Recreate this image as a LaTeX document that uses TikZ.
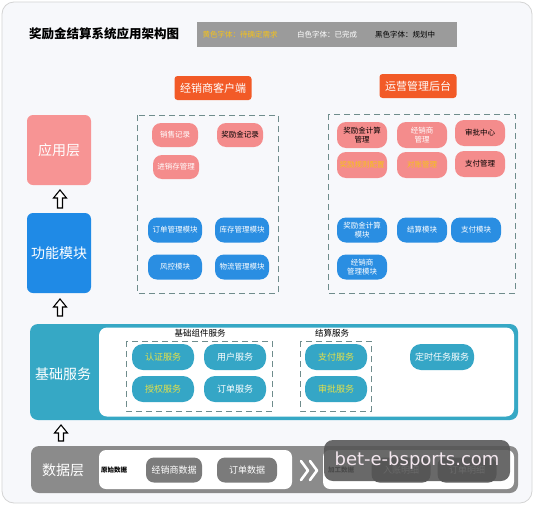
\documentclass[tikz,border=0pt]{standalone}
\usepackage{fontspec}
\setmainfont{Noto Sans CJK SC}
\newfontfamily\wmfont{DejaVu Sans}
\definecolor{cardbg}{HTML}{F7F8FB}
\definecolor{cardline}{HTML}{D4D4D4}
\definecolor{pinkc}{HTML}{F48C8C}
\definecolor{pinkbig}{HTML}{F79494}
\definecolor{bluec}{HTML}{2A8EE2}
\definecolor{bluebig}{HTML}{1F8AE6}
\definecolor{tealc}{HTML}{36A8C5}
\definecolor{tealpill}{HTML}{35A6C6}
\definecolor{orangec}{HTML}{F25A27}
\definecolor{greyc}{HTML}{8B8B8B}
\definecolor{greybox}{HTML}{7B7B7B}
\definecolor{legendc}{HTML}{9B9B9B}
\definecolor{yelc}{HTML}{F5C21A}
\definecolor{yelteal}{HTML}{E3E04A}
\definecolor{dashc}{HTML}{6F8C8C}
\definecolor{wmbg}{HTML}{555555}
\definecolor{wmtext}{HTML}{F3E6EE}
\tikzset{
  pinkpill/.style={fill=pinkc, rounded corners=9pt, minimum width=46pt, minimum height=24pt,
    font=\fontsize{7.5}{8.5}\selectfont, align=center, inner sep=1pt, text=white},
  pinkwide/.style={pinkpill, minimum width=50pt, minimum height=26pt},
  bluepill/.style={fill=bluec, rounded corners=9pt, minimum width=54pt, minimum height=25pt,
    font=\fontsize{7.5}{8.5}\selectfont, align=center, inner sep=1pt, text=white},
  tealpillst/.style={fill=tealpill, rounded corners=11pt, minimum width=62pt, minimum height=26pt,
    font=\fontsize{9}{10}\selectfont, inner sep=1pt, text=white},
  databox/.style={fill=greybox, rounded corners=8pt, minimum width=56pt, minimum height=25pt,
    font=\fontsize{9}{10}\selectfont, inner sep=1pt, text=white},
  blacktxt/.style={text=black},
  yeltxt/.style={text=yelc},
  yeltealtxt/.style={text=yelteal},
  layerbox/.style={rounded corners=6pt, minimum width=64pt, text=white,
    font=\fontsize{14}{16}\selectfont, inner sep=0pt},
  orangelabel/.style={fill=orangec, rounded corners=3pt, minimum width=77pt, minimum height=24pt,
    text=white, font=\fontsize{11}{12}\selectfont, inner sep=0pt},
  dashbox/.style={draw=dashc, line width=1pt, dash pattern=on 6pt off 4pt},
  hollowup/.style={draw=black, fill=white, line width=1.1pt, line join=miter},
  legendtxt/.style={font=\fontsize{7.5}{8.5}\selectfont, inner sep=0pt},
  sublabel/.style={font=\fontsize{8.5}{9.5}\selectfont, text=black, inner sep=0pt}
}
\newcommand{\hollowarrow}[3]{% x, top y, bottom y
  \draw[hollowup] (#1,#2) -- ++(6.5,8) -- ++(-4,0) -- (#1+2.5,#3) -- (#1-2.5,#3) -- (#1-2.5,#2+8) -- ++(-4,0) -- cycle;}
\begin{document}
\begin{tikzpicture}[x=1pt,y=-1pt]
\useasboundingbox (0,0) rectangle (535,506);
\fill[white] (0,0) rectangle (535,506);
\draw[draw=cardline, fill=cardbg, rounded corners=12pt, line width=0.8pt] (2,2) rectangle (532,503);

% title and legend
\node[font=\bfseries\fontsize{12.5}{14}\selectfont, anchor=west, inner sep=0pt] (title) at (29,34) {奖励金结算系统应用架构图};
\fill[legendc] (197,22) rectangle (457,47);
\node[legendtxt, text=yelc] (lg1) at (240,34.5) {黄色字体：待确定需求};
\node[legendtxt, text=white] (lg2) at (327,34.5) {白色字体：已完成};
\node[legendtxt, text=black] (lg3) at (405,34.5) {黑色字体：规划中};

% orange headers
\node[orangelabel] (hclient) at (213,88) {经销商客户端};
\node[orangelabel] (hadmin) at (418,86) {运营管理后台};

% left layers
\node[layerbox, fill=pinkbig, minimum height=70pt] (app) at (59,150) {应用层};
\node[layerbox, fill=bluebig, minimum height=80pt] (func) at (59,253) {功能模块};

% hollow arrows
\hollowarrow{60}{190}{208}
\hollowarrow{60}{299}{316}
\hollowarrow{61}{425}{441}

% client dashed box
\draw[dashbox] (137,115) rectangle (278,293);
\node[pinkpill] (xsjl) at (175,135) {销售记录};
\node[pinkpill, blacktxt] (jljjl) at (240,135) {奖励金记录};
\node[pinkpill] (jxcgl) at (176,167) {进销存管理};
\node[bluepill] (ddgl) at (175,230) {订单管理模块};
\node[bluepill] (kcgl) at (242,230) {库存管理模块};
\node[bluepill] (fkmk) at (175,267) {风控模块};
\node[bluepill] (wlgl) at (242,267) {物流管理模块};

% admin dashed box
\draw[dashbox] (328,114) rectangle (515,293);
\node[pinkwide, blacktxt] (jljjs) at (362,135) {奖励金计算\\管理};
\node[pinkwide] (jxsgl) at (422,135) {经销商\\管理};
\node[pinkwide, blacktxt] (spzx) at (480,133) {审批中心};
\node[pinkwide, yeltxt] (gzpz) at (362,165) {奖励规则配置};
\node[pinkwide, yeltxt] (dzgl) at (422,165) {对账管理};
\node[pinkwide, blacktxt] (zfgl) at (480,164) {支付管理};
\node[bluepill, minimum width=50pt] (jljmk) at (362,230) {奖励金计算\\模块};
\node[bluepill, minimum width=50pt] (jsmk) at (422,230) {结算模块};
\node[bluepill, minimum width=50pt] (zfmk) at (476,230) {支付模块};
\node[bluepill, minimum width=50pt] (jxsmk) at (362,267) {经销商\\管理模块};

% basic services
\fill[tealc, rounded corners=8pt] (30,324) rectangle (518,420);
\fill[white, rounded corners=8pt] (99,327.5) rectangle (514,416.5);
\node[layerbox, minimum height=20pt] (base) at (63,374) {基础服务};
\node[sublabel] (jczj) at (200,333) {基础组件服务};
\node[sublabel] (jsfw) at (332,333) {结算服务};
\draw[dashbox] (126,341) rectangle (272,411);
\draw[dashbox] (300,341) rectangle (371,411);
\node[tealpillst, yeltealtxt] (rzfw) at (163,357) {认证服务};
\node[tealpillst] (yhfw) at (235,357) {用户服务};
\node[tealpillst, yeltealtxt] (sqfw) at (163,389) {授权服务};
\node[tealpillst] (ddfw) at (235,389) {订单服务};
\node[tealpillst, yeltealtxt] (zffw) at (336,357) {支付服务};
\node[tealpillst, yeltealtxt] (spfw) at (336,389) {审批服务};
\node[tealpillst, minimum width=64pt] (dsrw) at (442,357) {定时任务服务};

% data layer
\fill[greyc, rounded corners=8pt] (31,446) rectangle (518,493);
\fill[white, rounded corners=7pt] (99,450) rectangle (292,489);
\fill[white, rounded corners=7pt] (323,450) rectangle (514,489);
\node[layerbox, minimum height=20pt] (data) at (63,470) {数据层};
\node[font=\bfseries\fontsize{6.5}{7}\selectfont, text=black, inner sep=0pt] (ysjs) at (114,470) {原始数据};
\node[databox] (jxssj) at (174,470) {经销商数据};
\node[databox, minimum width=60pt] (ddsj) at (247,470) {订单数据};
\draw[white, line width=2.6pt, line cap=round, line join=round] (301,461) -- (308,470.5) -- (301,480);
\draw[white, line width=2.6pt, line cap=round, line join=round] (310,461) -- (317,470.5) -- (310,480);
\node[font=\bfseries\fontsize{6.5}{7}\selectfont, text=black, inner sep=0pt] (jgsj) at (341,470) {加工数据};
\node[databox, fill=greybox!80!black, minimum width=59pt] (rzmx) at (401,470) {入账明细};
\node[databox, fill=greybox!80!black, minimum width=59pt] (ddmx) at (467,470) {订单明细};

% watermark
\node[fill=wmbg, fill opacity=0.88, text opacity=1, rounded corners=9pt, minimum width=186pt, minimum height=41pt,
  text=wmtext, font=\wmfont\fontsize{18}{20}\selectfont, inner sep=0pt] (wm) at (417,460.5) {bet-e-bsports.com};
\end{tikzpicture}
\end{document}
